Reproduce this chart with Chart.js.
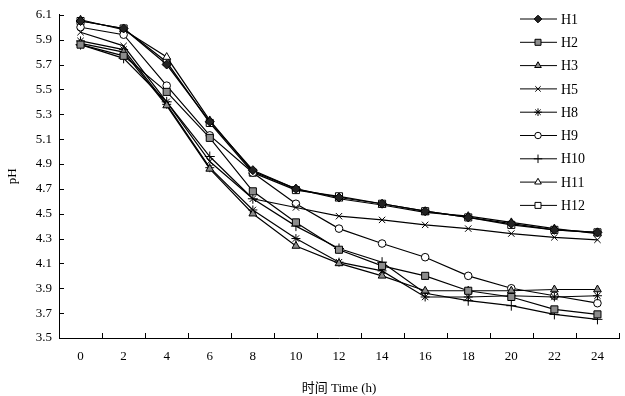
<!DOCTYPE html>
<html>
<head>
<meta charset="utf-8">
<script src="https://cdn.jsdelivr.net/npm/chart.js@4.4.1/dist/chart.umd.min.js"></script>
<style>
  html, body { margin: 0; padding: 0; background: #fff; }
</style>
</head>
<body>
<canvas id="chart" width="625" height="396"></canvas>
<script>
const hours = ['0', '2', '4', '6', '8', '10', '12', '14', '16', '18', '20', '22', '24'];
const h1  = [6.05, 5.99, 5.70, 5.24, 4.85, 4.70, 4.63, 4.58, 4.52, 4.47, 4.42, 4.37, 4.35];
const h2  = [5.86, 5.77, 5.48, 5.11, 4.68, 4.43, 4.21, 4.08, 4.00, 3.88, 3.83, 3.73, 3.69];
const h3  = [5.87, 5.80, 5.37, 4.86, 4.50, 4.24, 4.10, 4.00, 3.88, 3.88, 3.88, 3.89, 3.89];
const h5  = [5.96, 5.85, 5.40, 4.92, 4.62, 4.55, 4.48, 4.45, 4.41, 4.38, 4.34, 4.31, 4.29];
const h8  = [5.89, 5.82, 5.38, 4.87, 4.53, 4.30, 4.11, 4.04, 3.83, 3.83, 3.84, 3.83, 3.84];
const h9  = [6.00, 5.94, 5.53, 5.13, 4.83, 4.58, 4.38, 4.26, 4.15, 4.00, 3.90, 3.84, 3.78];
const h10 = [5.86, 5.75, 5.40, 4.96, 4.62, 4.40, 4.22, 4.11, 3.86, 3.80, 3.76, 3.69, 3.65];
const h11 = [6.06, 5.98, 5.76, 5.25, 4.84, 4.70, 4.62, 4.57, 4.51, 4.48, 4.43, 4.38, 4.34];
const h12 = [6.05, 5.99, 5.72, 5.23, 4.83, 4.69, 4.64, 4.58, 4.52, 4.47, 4.41, 4.37, 4.35];

const serif = '"Liberation Serif", "Noto Sans CJK SC", serif';

function series(label, data, style, fill, radius) {
  return {
    label: label,
    data: data,
    borderColor: '#000',
    borderWidth: 1.2,
    pointStyle: style,
    pointRadius: radius,
    pointBorderColor: '#000',
    pointBackgroundColor: fill,
    pointBorderWidth: 1,
    tension: 0
  };
}

const datasets = [
  series('H1', h1, 'rectRot', '#222', 4.5),
  series('H2', h2, 'rect', '#8c8c8c', 5),
  series('H3', h3, 'triangle', '#8c8c8c', 4.5),
  series('H5', h5, 'crossRot', '#000', 4.5),
  series('H8', h8, 'star', '#000', 4.5),
  series('H9', h9, 'circle', '#fff', 3.8),
  series('H10', h10, 'cross', '#000', 5),
  series('H11', h11, 'triangle', '#fff', 4.5),
  series('H12', h12, 'rect', '#fff', 5)
];

// inner tick marks on both axes
const innerTicks = {
  id: 'innerTicks',
  afterDraw(chart) {
    const ctx = chart.ctx;
    const x = chart.scales.x, y = chart.scales.y;
    const half = (x.getPixelForValue(1) - x.getPixelForValue(0)) / 2;
    ctx.save();
    ctx.strokeStyle = '#000';
    ctx.lineWidth = 1;
    ctx.beginPath();
    for (let i = 0; i < hours.length; i++) {
      const px = Math.round(x.getPixelForValue(i) + half) + 0.5;
      ctx.moveTo(px, y.bottom);
      ctx.lineTo(px, y.bottom - 5);
    }
    y.ticks.forEach(t => {
      const py = Math.round(y.getPixelForValue(t.value)) + 0.5;
      ctx.moveTo(x.left, py);
      ctx.lineTo(x.left + 5, py);
    });
    ctx.stroke();
    ctx.restore();
  }
};

// legend drawn over the upper right of the plot
const sideLegend = {
  id: 'sideLegend',
  afterDraw(chart) {
    const ctx = chart.ctx;
    ctx.save();
    chart.data.datasets.forEach((ds, i) => {
      const ly = 19 + i * 23.3;
      ctx.strokeStyle = '#000';
      ctx.lineWidth = 1;
      ctx.beginPath();
      ctx.moveTo(520, ly);
      ctx.lineTo(557, ly);
      ctx.stroke();
      ctx.fillStyle = ds.pointBackgroundColor;
      Chart.helpers.drawPoint(ctx, {pointStyle: ds.pointStyle, radius: ds.pointRadius * 0.85, borderWidth: 1, rotation: 0}, 538, ly);
      ctx.fillStyle = '#000';
      ctx.font = '14px ' + serif;
      ctx.textBaseline = 'middle';
      ctx.textAlign = 'left';
      ctx.fillText(ds.label, 561, ly + 1);
    });
    ctx.restore();
  }
};

const ctx = document.getElementById('chart');
const myChart = new Chart(ctx, {
  type: 'line',
  data: { labels: hours, datasets: datasets },
  plugins: [innerTicks, sideLegend],
  options: {
    responsive: false,
    animation: false,
    layout: { padding: { top: 14, right: 3, left: 0, bottom: 0 } },
    plugins: {
      legend: { display: false },
      tooltip: { enabled: false }
    },
    scales: {
      x: {
        offset: true,
        grid: { display: true, drawOnChartArea: false, drawTicks: false, offset: true },
        border: { display: true, color: '#000', width: 1 },
        ticks: { color: '#000', padding: 11, maxRotation: 0, font: { family: serif, size: 13 } },
        title: { display: true, text: '时间 Time (h)', color: '#000', padding: { top: 13, bottom: 0 }, font: { family: serif, size: 13 } },
        afterFit(scale) { scale.height = 58; }
      },
      y: {
        min: 3.5,
        max: 6.1,
        grid: { display: true, drawOnChartArea: false, drawTicks: false },
        border: { display: true, color: '#000', width: 1 },
        ticks: {
          stepSize: 0.2,
          color: '#000',
          padding: 7,
          font: { family: serif, size: 13 },
          callback: v => v.toFixed(1)
        },
        title: { display: true, text: 'pH', color: '#000', padding: { top: 5, bottom: 0 }, font: { family: serif, size: 13 } },
        afterFit(scale) { scale.width = 59; }
      }
    }
  }
});
</script>
</body>
</html>
